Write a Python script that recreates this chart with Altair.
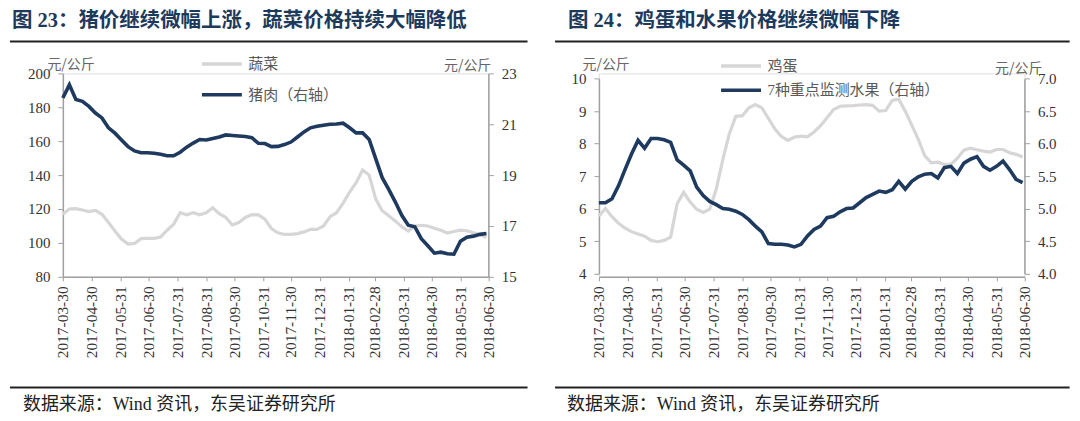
import altair as alt
import pandas as pd

# ---------------- data ----------------
x_ticks = ["2017-03-30", "2017-04-30", "2017-05-31", "2017-06-30", "2017-07-31",
           "2017-08-31", "2017-09-30", "2017-10-31", "2017-11-30", "2017-12-31",
           "2018-01-31", "2018-02-28", "2018-03-31", "2018-04-30", "2018-05-31",
           "2018-06-30"]

# Figure 23 (weekly)
veg = [116.9, 120, 120.2, 119.4, 118.5, 119.2, 116.9, 112, 107, 102.3,
       99.3, 99.7, 102.5, 102.7, 102.7, 103.5, 107.5, 111, 117.8, 116.6,
       117.8, 116.6, 117.8, 120.7, 117.3, 115, 110.6, 112, 115, 116.7,
       116.5, 114, 108.5, 106, 105, 105, 105.5, 106.5, 108, 108,
       110, 115.5, 117.8, 123.5, 130, 135.5, 143, 140, 126, 119,
       116, 113, 109.5, 107, 110, 110.4, 110, 108.7, 107.5, 105.8,
       106.7, 107.5, 107.2, 106, 105, 103.2]
pork = [22.03, 22.55, 21.97, 21.9, 21.7, 21.44, 21.25, 20.86, 20.65, 20.38,
        20.12, 19.95, 19.88, 19.88, 19.86, 19.82, 19.76, 19.76, 19.9, 20.1,
        20.26, 20.4, 20.38, 20.44, 20.5, 20.58, 20.56, 20.54, 20.52, 20.47,
        20.25, 20.24, 20.12, 20.13, 20.2, 20.3, 20.5, 20.7, 20.86, 20.92,
        20.96, 21.0, 21.01, 21.04, 20.86, 20.66, 20.66, 20.4, 19.65, 18.9,
        18.44, 17.95, 17.42, 17.03, 16.97, 16.5, 16.22, 15.93, 15.97, 15.91,
        15.89, 16.4, 16.56, 16.6, 16.67, 16.7]

# Figure 24 (weekly)
egg = [5.77, 6.0, 5.75, 5.55, 5.4, 5.29, 5.22, 5.15, 5.02, 4.98,
       5.02, 5.12, 6.15, 6.5, 6.2, 5.98, 5.88, 5.98, 6.6, 7.5,
       8.3, 8.84, 8.86, 9.1, 9.2, 9.1, 8.78, 8.45, 8.22, 8.1,
       8.2, 8.23, 8.21, 8.36, 8.55, 8.8, 9.05, 9.15, 9.16, 9.17,
       9.19, 9.2, 9.18, 9.0, 9.02, 9.33, 9.37, 9.0, 8.57, 8.13,
       7.62, 7.41, 7.43, 7.36, 7.36, 7.55, 7.8, 7.86, 7.81, 7.77,
       7.74, 7.82, 7.82, 7.72, 7.67, 7.59]
fruit = [5.09, 5.09, 5.15, 5.35, 5.6, 5.84, 6.05, 5.93, 6.08, 6.08,
         6.06, 6.02, 5.75, 5.67, 5.58, 5.33, 5.2, 5.11, 5.06, 5.0,
         4.99, 4.96, 4.91, 4.83, 4.73, 4.64, 4.46, 4.45, 4.45, 4.44,
         4.41, 4.45, 4.58, 4.68, 4.73, 4.86, 4.88, 4.95, 5.0, 5.01,
         5.09, 5.17, 5.22, 5.27, 5.25, 5.29, 5.42, 5.3, 5.42, 5.49,
         5.53, 5.54, 5.47, 5.63, 5.65, 5.54, 5.7, 5.76, 5.8, 5.65,
         5.59, 5.65, 5.73, 5.6, 5.45, 5.4]

dates = pd.date_range(x_ticks[0], periods=len(veg), freq="7D")

veg_ticks = [80, 100, 120, 140, 160, 180, 200]
pork_ticks = [15, 17, 19, 21, 23]
egg_ticks = [4, 5, 6, 7, 8, 9, 10]
fruit_ticks = [4.0, 4.5, 5.0, 5.5, 6.0, 6.5, 7.0]

title23 = "图 23：猪价继续微幅上涨，蔬菜价格持续大幅降低"
title24 = "图 24：鸡蛋和水果价格继续微幅下降"
source = "数据来源：Wind 资讯，东吴证券研究所"
unit = "元/公斤"

# ---------------- style ----------------
NAVY = "#1f3a5f"
GRAY = "#d6d6d6"
TITLE_C = "#1d3a5c"
LATIN = "Liberation Serif"
CJK = "Noto Sans CJK SC"
AX_C = "#a0a0a0"

W = 426.7
H = 204


def dt(s):
    y, m, d = map(int, s.split("-"))
    return alt.DateTime(year=y, month=m, date=d)


def panel(title, lname, lvals, ldom, lticks, lfmt, ltx, lty,
          rname, rvals, rdom, rticks, rfmt, rtx, rty,
          yrange, leg_x, leg_y, leg_pad, head_x, rule_x1, rule_x2, src_x):
    dfl = pd.DataFrame({"date": dates, "v": lvals, "s": lname})
    dfr = pd.DataFrame({"date": dates, "v": rvals, "s": rname})

    xenc = alt.X(
        "date:T",
        scale=alt.Scale(domain=[dt(x_ticks[0]), dt(x_ticks[-1])]),
        axis=alt.Axis(values=[dt(s) for s in x_ticks], format="%Y-%m-%d",
                      labelAngle=270, title=None, labelFontSize=15.5,
                      labelOverlap=False, tickSize=4, labelPadding=5,
                      labelFont=LATIN, labelColor="#333333",
                      domainColor=AX_C, domainWidth=1.5, tickColor=AX_C,
                      grid=False),
    )
    color = alt.Color(
        "s:N",
        scale=alt.Scale(domain=[lname, rname], range=[GRAY, NAVY]),
        legend=alt.Legend(orient="none", legendX=leg_x, legendY=leg_y,
                          title=None, direction="vertical",
                          symbolType="M-4,0L4,0", symbolSize=100,
                          symbolStrokeWidth=3.5, labelFont=LATIN + ", " + CJK,
                          labelFontSize=15, labelColor="#595959",
                          labelLimit=0,
                          rowPadding=leg_pad, labelOffset=19, padding=0),
    )

    def yaxis(ticks, fmt, orient, tx, ty):
        return alt.Axis(values=ticks, format=fmt, orient=orient, grid=False,
                        title=unit, titleAngle=0, titleX=tx, titleY=ty,
                        titleAlign="left", titleBaseline="middle",
                        titleFont=CJK, titleFontSize=14,
                        titleFontWeight="normal", titleColor="#666666",
                        labelFont=LATIN, labelFontSize=15,
                        labelColor="#333333", labelPadding=8,
                        domainColor=AX_C, domainWidth=1.5, tickColor=AX_C,
                        tickSize=5)

    left_line = alt.Chart(dfl).mark_line(strokeWidth=3.2).encode(
        x=xenc,
        y=alt.Y("v:Q", scale=alt.Scale(domain=ldom, nice=False, zero=False,
                                        range=yrange),
                axis=yaxis(lticks, lfmt, "left", ltx, lty)),
        color=color,
    )
    right_line = alt.Chart(dfr).mark_line(strokeWidth=3.6).encode(
        x=xenc,
        y=alt.Y("v:Q", scale=alt.Scale(domain=rdom, nice=False, zero=False,
                                        range=yrange),
                axis=yaxis(rticks, rfmt, "right", rtx, rty)),
        color=color,
    )

    tdf = pd.DataFrame({"t": [title]})
    head = alt.Chart(tdf).mark_text(
        align="left", baseline="middle", font=LATIN + ", " + CJK,
        fontSize=20.5, fontWeight="bold", color=TITLE_C,
    ).encode(x=alt.value(head_x), y=alt.value(-53), text="t:N")

    sdf = pd.DataFrame({"t": [source]})
    src = alt.Chart(sdf).mark_text(
        align="left", baseline="middle", font=LATIN + ", " + CJK,
        fontSize=18, color="#222222",
    ).encode(x=alt.value(src_x), y=alt.value(333), text="t:N")

    rule_top = alt.Chart(tdf).mark_rule(color="#222222", strokeWidth=2).encode(
        x=alt.value(rule_x1), x2=alt.value(rule_x2), y=alt.value(-32))
    rule_bot = alt.Chart(tdf).mark_rule(color="#222222", strokeWidth=2).encode(
        x=alt.value(rule_x1), x2=alt.value(rule_x2), y=alt.value(315))
    anchor = alt.Chart(tdf).mark_rule(color="white", strokeWidth=1).encode(
        x=alt.value(0), x2=alt.value(5), y=alt.value(-63.5))

    return alt.layer(left_line, right_line, head, src, rule_top, rule_bot,
                     anchor).resolve_scale(y="independent").properties(
        width=W, height=H)


p23 = panel(title23, "蔬菜", veg, [80, 200], veg_ticks, "d", -16, -9,
            "猪肉（右轴）", pork, [15, 23], pork_ticks, "d", -45, -8,
            [H, 0], 152, -17, 15, -51, -53, 466, -40)

p24 = panel(title24, "鸡蛋", egg, [4, 10], egg_ticks, "d", -17, -9,
            "7种重点监测水果（右轴）", fruit, [4.0, 7.0], fruit_ticks, ".1f", -30, -5,
            [200.7, 5.3], 135, -15, 8.5, -31, -44, 472, -32)

chart = alt.hconcat(p23, p24, spacing=110.6, bounds="flush").resolve_scale(
    color="independent", x="independent", y="independent"
).resolve_legend(color="independent").properties(
    padding=0
).configure_view(stroke=None).configure(background="white")

chart.save("out.html", embed_options={"renderer": "svg", "actions": False})
